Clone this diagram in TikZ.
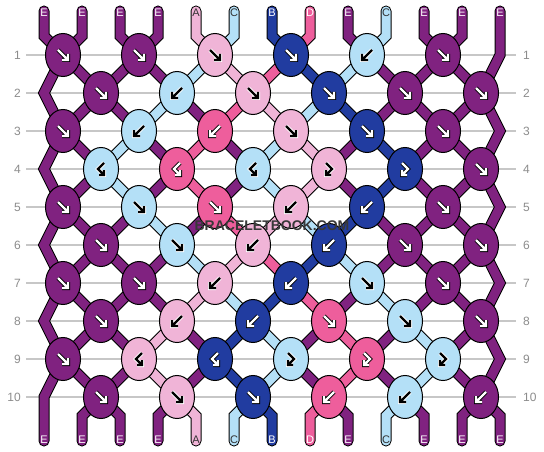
\documentclass[tikz,border=0pt]{standalone}
\usepackage{fontspec}
\setmainfont{Liberation Sans}
\usetikzlibrary{shapes.geometric}
\definecolor{cE}{RGB}{128,34,128}
\definecolor{cA}{RGB}{240,180,215}
\definecolor{cC}{RGB}{180,224,247}
\definecolor{cB}{RGB}{33,60,160}
\definecolor{cD}{RGB}{238,94,156}
\colorlet{fgE}{white}\colorlet{fgB}{white}\colorlet{fgD}{white}
\colorlet{fgA}{black}\colorlet{fgC}{black}
\colorlet{hlE}{black}\colorlet{hlB}{black}\colorlet{hlD}{black}
\colorlet{hlA}{white}\colorlet{hlC}{white}
\colorlet{tE}{white}\colorlet{tB}{white}\colorlet{tD}{white}
\colorlet{tA}{black!80}\colorlet{tC}{black!80}
\pgfdeclarelayer{bg}\pgfdeclarelayer{strs}
\pgfsetlayers{bg,strs,main}
\newcommand\glF[2]{\draw[#2,shift={(#1.center)}] (-5,-5) -- (5,5) (-1,5) -- (5,5) -- (5,-1);}
\newcommand\glB[2]{\draw[#2,shift={(#1.center)}] (5,-5) -- (-5,5) (1,5) -- (-5,5) -- (-5,-1);}
\newcommand\glP[2]{\draw[#2,shift={(#1.center)}] (-3,-6) -- (3,0) -- (-3,6) (2,6) -- (-3,6) -- (-3,1);}
\newcommand\glQ[2]{\draw[#2,shift={(#1.center)}] (3,-6) -- (-3,0) -- (3,6) (-2,6) -- (3,6) -- (3,1);}
\tikzset{
  knot/.style={ellipse, draw=black, line width=1pt, minimum width=35pt, minimum height=43pt, inner sep=0pt},
  str/.style={draw=black, line width=1pt, double=#1, double distance=9pt, line cap=round, line join=miter},
  rownum/.style={text=black!45, font=\fontsize{12}{12}\selectfont, inner sep=0pt},
  rowline/.style={draw=black!22, line width=1.5pt},
  lbl/.style={font=\fontsize{11}{11}\selectfont, inner sep=0pt},
}
\begin{document}
\begin{tikzpicture}[x=1pt,y=-1pt]
\useasboundingbox (0,0) rectangle (544,452);
\begin{pgfonlayer}{bg}
\fill[white] (0,0) rectangle (544,452);
\end{pgfonlayer}
% row numbers and guide lines
\foreach \r in {1,...,10} {
  \pgfmathsetmacro\yy{55+38*(\r-1)}
  \node[rownum, anchor=east] (L\r) at (21,\yy) {\r};
  \node[rownum, anchor=west] (R\r) at (523,\yy) {\r};
  \begin{pgfonlayer}{bg}
  \draw[rowline] ([xshift=5pt]L\r.east) -- ([xshift=-7pt]R\r.west);
  \end{pgfonlayer}
}
% string end points
\foreach \i in {1,...,13} {
  \pgfmathsetmacro\xx{44+38*(\i-1)}
  \coordinate (t\i) at (\xx,11);
  \coordinate (tb\i) at (\xx,36);
  \coordinate (bb\i) at (\xx,416);
  \coordinate (b\i) at (\xx,441);
}
% edge turning points
\foreach \r in {2,4,6,8,10} {\pgfmathsetmacro\yy{55+38*(\r-1)}\coordinate (eL\r) at (44,\yy);}
\foreach \r in {1,3,5,7,9} {\pgfmathsetmacro\yy{55+38*(\r-1)}\coordinate (eR\r) at (500,\yy);}
% knots
\foreach \kn/\x/\y/\cc/\kg in {
r1k1/63/55/E/F, r1k2/139/55/E/F, r1k3/215/55/A/F, r1k4/291/55/B/F, r1k5/367/55/C/B, r1k6/443/55/E/F,
r2k1/101/93/E/F, r2k2/177/93/C/B, r2k3/253/93/A/F, r2k4/329/93/B/F, r2k5/405/93/E/F, r2k6/481/93/E/F,
r3k1/63/131/E/F, r3k2/139/131/C/B, r3k3/215/131/D/B, r3k4/291/131/A/F, r3k5/367/131/B/F, r3k6/443/131/E/F,
r4k1/101/169/C/Q, r4k2/177/169/D/Q, r4k3/253/169/C/Q, r4k4/329/169/A/P, r4k5/405/169/B/P, r4k6/481/169/E/F,
r5k1/63/207/E/F, r5k2/139/207/C/F, r5k3/215/207/D/F, r5k4/291/207/A/B, r5k5/367/207/B/B, r5k6/443/207/E/F,
r6k1/101/245/E/F, r6k2/177/245/C/F, r6k3/253/245/A/B, r6k4/329/245/B/B, r6k5/405/245/E/F, r6k6/481/245/E/F,
r7k1/63/283/E/F, r7k2/139/283/E/F, r7k3/215/283/A/B, r7k4/291/283/B/B, r7k5/367/283/C/F, r7k6/443/283/E/F,
r8k1/101/321/E/F, r8k2/177/321/A/B, r8k3/253/321/B/B, r8k4/329/321/D/F, r8k5/405/321/C/F, r8k6/481/321/E/F,
r9k1/63/359/E/F, r9k2/139/359/A/Q, r9k3/215/359/B/Q, r9k4/291/359/C/P, r9k5/367/359/D/P, r9k6/443/359/C/P,
r10k1/101/397/E/F, r10k2/177/397/A/F, r10k3/253/397/B/F, r10k4/329/397/D/B, r10k5/405/397/C/B, r10k6/481/397/E/B} {
  \node[knot, fill=c\cc] (\kn) at (\x,\y) {};
  \csname gl\kg\endcsname{\kn}{draw=hl\cc, line width=4pt}
  \csname gl\kg\endcsname{\kn}{draw=fg\cc, line width=2.3pt}
}
% strings
\begin{pgfonlayer}{strs}
\draw[str=cE] (t1) -- (tb1) -- (r1k1.center) -- (r2k1.center) -- (r3k2.center) -- (r4k2.center) -- (r5k2.center) -- (r6k1.center) -- (r7k1.center) -- (eL8) -- (r9k1.center) -- (r10k1.center) -- (bb3) -- (b3);
\draw[str=cE] (t2) -- (tb2) -- (r1k1.center) -- (eL2) -- (r3k1.center) -- (r4k1.center) -- (r5k1.center) -- (eL6) -- (r7k1.center) -- (r8k1.center) -- (r9k2.center) -- (r10k1.center) -- (bb2) -- (b2);
\draw[str=cE] (t3) -- (tb3) -- (r1k2.center) -- (r2k2.center) -- (r3k3.center) -- (r4k3.center) -- (r5k3.center) -- (r6k2.center) -- (r7k2.center) -- (r8k1.center) -- (r9k1.center) -- (eL10) -- (bb1) -- (b1);
\draw[str=cE] (t4) -- (tb4) -- (r1k2.center) -- (r2k1.center) -- (r3k1.center) -- (eL4) -- (r5k1.center) -- (r6k1.center) -- (r7k2.center) -- (r8k2.center) -- (r9k3.center) -- (r10k2.center) -- (bb4) -- (b4);
\draw[str=cA] (t5) -- (tb5) -- (r1k3.center) -- (r2k3.center) -- (r3k4.center) -- (r4k4.center) -- (r5k4.center) -- (r6k3.center) -- (r7k3.center) -- (r8k2.center) -- (r9k2.center) -- (r10k2.center) -- (bb5) -- (b5);
\draw[str=cC] (t6) -- (tb6) -- (r1k3.center) -- (r2k2.center) -- (r3k2.center) -- (r4k1.center) -- (r5k2.center) -- (r6k2.center) -- (r7k3.center) -- (r8k3.center) -- (r9k4.center) -- (r10k3.center) -- (bb6) -- (b6);
\draw[str=cB] (t7) -- (tb7) -- (r1k4.center) -- (r2k4.center) -- (r3k5.center) -- (r4k5.center) -- (r5k5.center) -- (r6k4.center) -- (r7k4.center) -- (r8k3.center) -- (r9k3.center) -- (r10k3.center) -- (bb7) -- (b7);
\draw[str=cD] (t8) -- (tb8) -- (r1k4.center) -- (r2k3.center) -- (r3k3.center) -- (r4k2.center) -- (r5k3.center) -- (r6k3.center) -- (r7k4.center) -- (r8k4.center) -- (r9k5.center) -- (r10k4.center) -- (bb8) -- (b8);
\draw[str=cE] (t9) -- (tb9) -- (r1k5.center) -- (r2k5.center) -- (r3k6.center) -- (r4k6.center) -- (eR5) -- (r6k6.center) -- (r7k6.center) -- (r8k5.center) -- (r9k5.center) -- (r10k5.center) -- (bb11) -- (b11);
\draw[str=cC] (t10) -- (tb10) -- (r1k5.center) -- (r2k4.center) -- (r3k4.center) -- (r4k3.center) -- (r5k4.center) -- (r6k4.center) -- (r7k5.center) -- (r8k5.center) -- (r9k6.center) -- (r10k5.center) -- (bb10) -- (b10);
\draw[str=cE] (t11) -- (tb11) -- (r1k6.center) -- (r2k6.center) -- (eR3) -- (r4k6.center) -- (r5k6.center) -- (r6k5.center) -- (r7k5.center) -- (r8k4.center) -- (r9k4.center) -- (r10k4.center) -- (bb9) -- (b9);
\draw[str=cE] (t12) -- (tb12) -- (r1k6.center) -- (r2k5.center) -- (r3k5.center) -- (r4k4.center) -- (r5k5.center) -- (r6k5.center) -- (r7k6.center) -- (r8k6.center) -- (eR9) -- (r10k6.center) -- (bb12) -- (b12);
\draw[str=cE] (t13) -- (tb13) -- (eR1) -- (r2k6.center) -- (r3k6.center) -- (r4k5.center) -- (r5k6.center) -- (r6k6.center) -- (eR7) -- (r8k6.center) -- (r9k6.center) -- (r10k6.center) -- (bb13) -- (b13);
\end{pgfonlayer}
% string labels
\foreach \i/\cc in {1/E,2/E,3/E,4/E,5/A,6/C,7/B,8/D,9/E,10/C,11/E,12/E,13/E} {
  \node[lbl, text=t\cc] (lt\i) at ([yshift=-2pt]t\i) {\cc};
  \node[lbl, text=t\cc] (lb\i) at ([yshift=1pt]b\i) {\cc};
}
\node[font=\bfseries\fontsize{14}{14}\selectfont, text=black!78, inner sep=0pt] (wm) at (272,226) {BRACELETBOOK.COM};
\end{tikzpicture}
\end{document}
